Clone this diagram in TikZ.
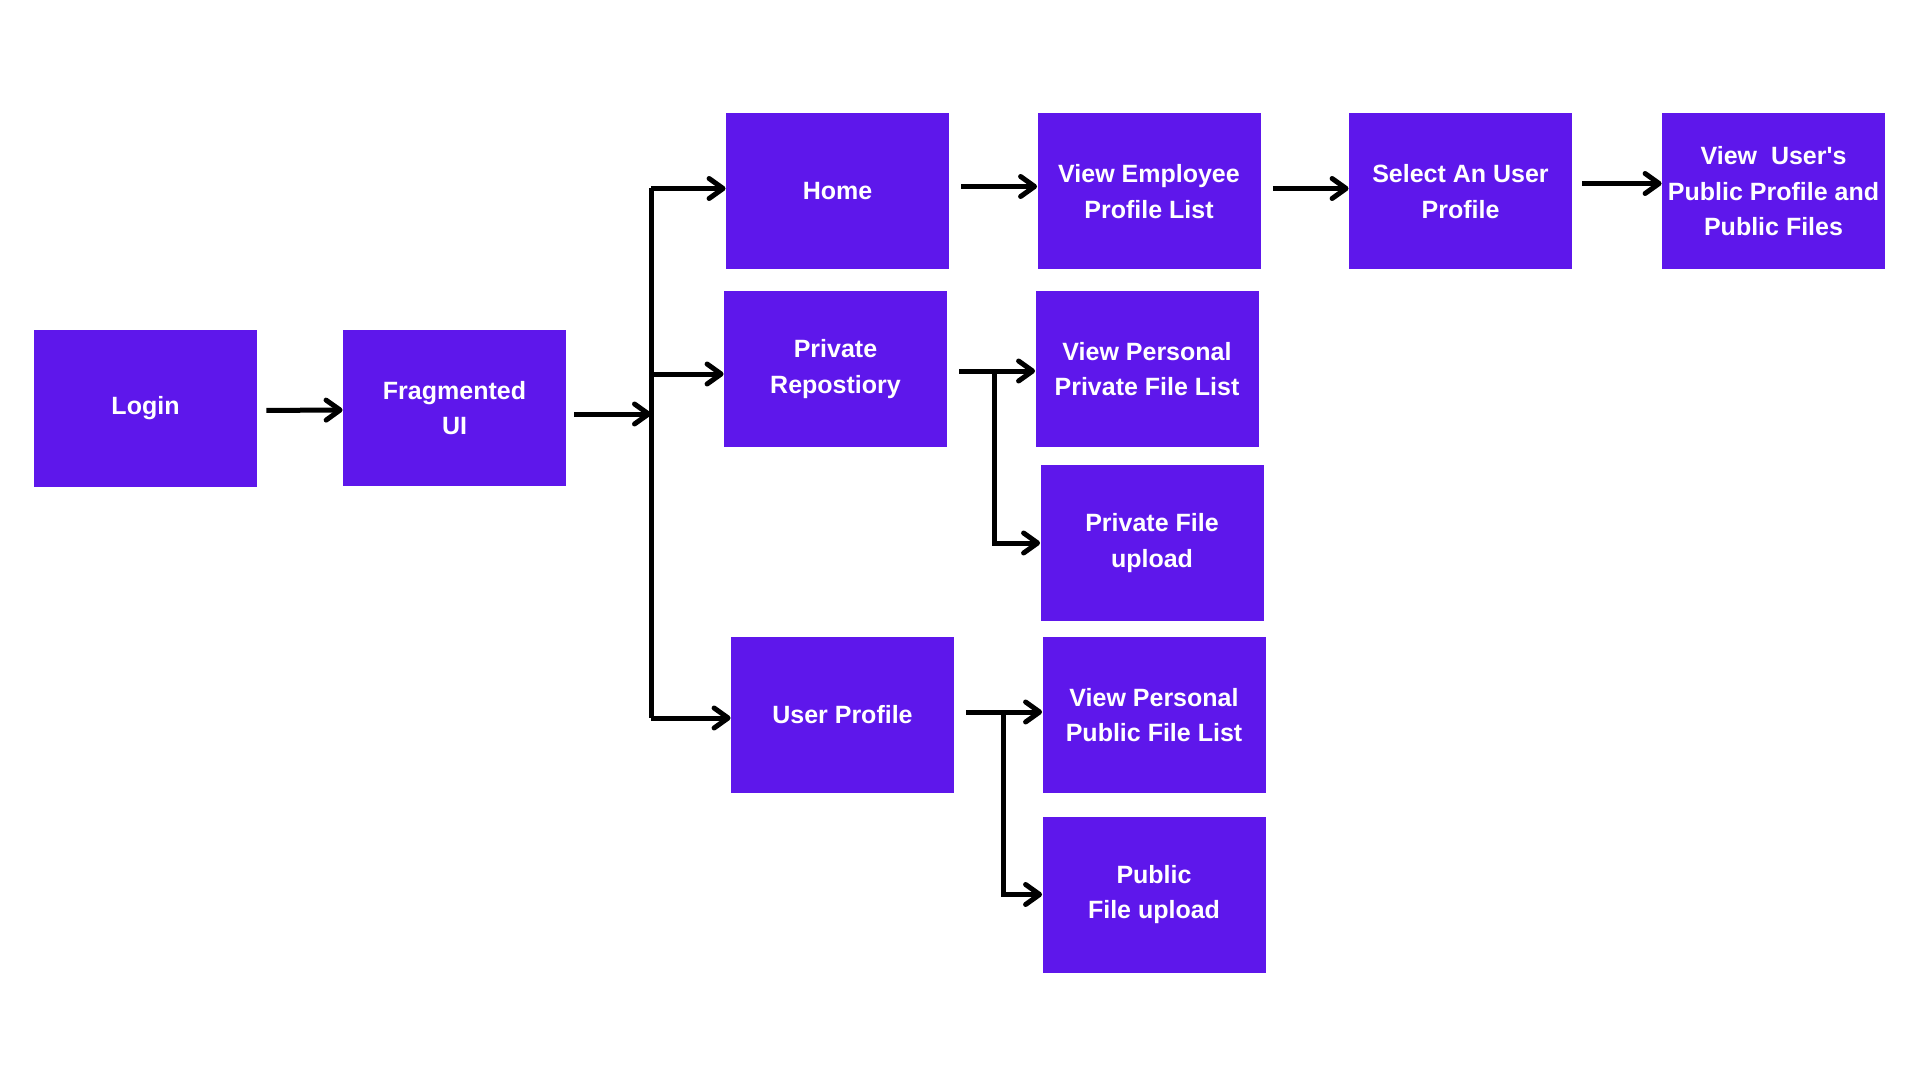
\documentclass[tikz,border=0pt]{standalone}
\usepackage{fontspec}
\setmainfont{Liberation Sans}
\usepackage{xcolor}
\definecolor{cpurple}{HTML}{5E17EB}
\usepackage{tikz}
\usetikzlibrary{positioning,arrows.meta,calc}

\begin{document}
\begin{tikzpicture}[x=0.5pt, y=-0.5pt, >={Straight Barb[length=7pt, width=10pt, round]},
  box/.style={fill=cpurple, draw=none, text=white, minimum width=111.5pt, minimum height=78pt, inner sep=1pt, align=center,
    font=\fontsize{12.5}{17.75}\selectfont\bfseries},
  link/.style={line width=2.5pt, black},
  arr/.style={link, ->}]
  \useasboundingbox (0,0) rectangle (1920,1080);
  % first column
  \node[box] (login) at (145.5,408.5) {Login};
  \node[box] (frag) at (454.5,408) {Fragmented\\UI};
  % second column
  \node[box] (home) at (837.5,191.5) {Home};
  \node[box] (priv) at (835.5,369) {Private\\Repostiory};
  \node[box] (uprof) at (842.5,715) {User Profile};
  % third column and beyond
  \node[box] (vepl) at (1149,191.5) {View Employee\\Profile List};
  \node[box] (sel) at (1460.5,191.5) {Select An User\\Profile};
  \node[box] (vuser) at (1773.5,191.5) {View\ \ User\textquotesingle s\\Public Profile and\\Public Files};
  \node[box] (vppl) at (1147,369) {View Personal\\Private File List};
  \node[box] (pfu) at (1152,543) {Private File\\upload};
  \node[box] (vpub) at (1154,715) {View Personal\\Public File List};
  \node[box] (pubu) at (1154,894.5) {Public\\File upload};
  % connectors
  \coordinate (split) at (651,414);
  \draw[arr, shorten <=4.5pt] ([yshift=-1pt]login.east) -- ([yshift=-1pt]frag.west);
  \draw[arr, shorten <=4pt] ([yshift=-3pt]frag.east) -- (split);
  \draw[link] ([yshift=1.5pt]split |- home.west) -- ([yshift=-1.5pt]split |- uprof.west);
  \draw[arr] ([yshift=1.5pt]split |- home.west) -- ([yshift=1.5pt]home.west);
  \draw[arr] ([yshift=-2.5pt]split |- priv.west) -- ([yshift=-2.5pt]priv.west);
  \draw[arr] ([yshift=-1.5pt]split |- uprof.west) -- ([yshift=-1.5pt]uprof.west);
  \draw[arr, shorten <=6pt] ([yshift=2.5pt]home.east) -- ([yshift=2.5pt]vepl.west);
  \draw[arr, shorten <=6pt] ([yshift=1.5pt]vepl.east) -- ([yshift=1.5pt]sel.west);
  \draw[arr, shorten <=5pt] ([yshift=4pt]sel.east) -- ([yshift=4pt]vuser.west);
  \coordinate (pfork) at (994,371);
  \coordinate (ufork) at (1003,712);
  \draw[arr, shorten <=6pt] ([yshift=-1pt]priv.east) -- ([yshift=-1pt]vppl.west);
  \draw[arr] (pfork) |- (pfu.west);
  \draw[arr, shorten <=6pt] ([yshift=1.5pt]uprof.east) -- ([yshift=1.5pt]vpub.west);
  \draw[arr] (ufork) |- (pubu.west);
\end{tikzpicture}
\end{document}
